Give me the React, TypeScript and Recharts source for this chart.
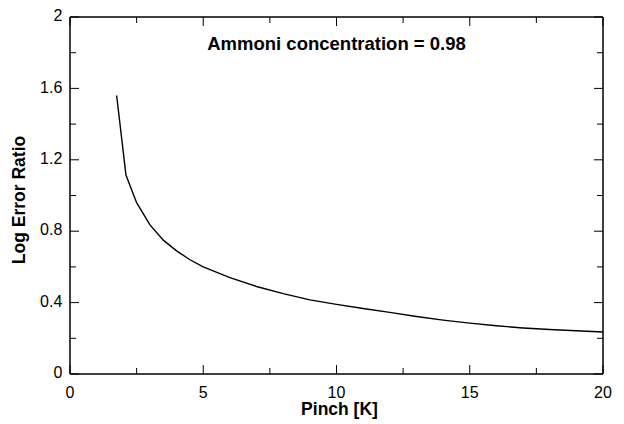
import React from 'react';
import { LineChart, Line, XAxis, YAxis, Label } from 'recharts';

const pinch = [1.75, 2.1, 2.5, 3, 3.5, 4, 4.5, 5, 6, 7, 8, 9, 10, 11, 12, 13, 14, 15, 16, 17, 18, 19, 20];
const logErrorRatio = [1.56, 1.115, 0.96, 0.835, 0.75, 0.69, 0.64, 0.6, 0.54, 0.49, 0.45, 0.415, 0.39, 0.367, 0.345, 0.322, 0.302, 0.285, 0.27, 0.258, 0.249, 0.242, 0.235];
const xMajorTicks = [0, 5, 10, 15, 20];
const xMinorTicks = [2.5, 7.5, 12.5, 17.5];
const yMajorTicks = [0, 0.4, 0.8, 1.2, 1.6, 2];
const yMinorTicks = [0.2, 0.6, 1.0, 1.4, 1.8];
const titleText = 'Ammoni concentration = 0.98';
const xLabel = 'Pinch [K]';
const yLabel = 'Log Error Ratio';

const data = pinch.map((x, i) => ({ x, y: logErrorRatio[i] }));

const FONT = '"Liberation Sans", Arial, sans-serif';
const axisLine = { stroke: '#000', strokeWidth: 1.5 };
const Z = 0.001;
const MAJOR = 9;
const MINOR = 6;

// Custom tick: draws the inward tick mark (and optionally the label).
// With tickMargin=0 and tickSize=-len, (x, y) is the inner end of the tick mark.
function makeTick(orientation: string, len: number, showLabel: boolean) {
  return (props: any) => {
    const { x, y, payload } = props;
    const v = payload && payload.value;
    const label = String(v);
    let line: any;
    let text: any = null;
    if (orientation === 'bottom') {
      line = <line x1={x} x2={x} y1={y} y2={y + len} stroke="#000" strokeWidth={1} />;
      if (showLabel)
        text = <text x={x} y={y + len + 23.6} textAnchor="middle" fontSize={16} fill="#000" fontFamily={FONT}>{label}</text>;
    } else if (orientation === 'top') {
      line = <line x1={x} x2={x} y1={y} y2={y - len} stroke="#000" strokeWidth={1} />;
    } else if (orientation === 'left') {
      line = <line x1={x} x2={x - len} y1={y} y2={y} stroke="#000" strokeWidth={1} />;
      if (showLabel)
        text = <text x={x - len - 7.7} y={y + 4.2} textAnchor="end" fontSize={16} fill="#000" fontFamily={FONT}>{label}</text>;
    } else {
      line = <line x1={x} x2={x + len} y1={y} y2={y} stroke="#000" strokeWidth={1} />;
    }
    return <g>{line}{text}</g>;
  };
}

export default function App() {
  return (
    <div style={{ position: 'absolute', left: 0, top: 0, background: '#fff', fontFamily: FONT }}>
      <LineChart width={624} height={424} data={data} margin={{ top: 17, right: 21, bottom: 50, left: 70 }}>
        {/* bottom */}
        <XAxis xAxisId="xb" dataKey="x" type="number" domain={[0, 20]} allowDataOverflow ticks={xMajorTicks} interval={0}
          orientation="bottom" height={Z} tickSize={-MAJOR} tickMargin={0} axisLine={axisLine} tickLine={false}
          tick={makeTick('bottom', MAJOR, true)}>
          <Label value={xLabel} position="bottom" offset={29} dx={3}
            style={{ fontSize: 17.5, fontWeight: 'bold', fill: '#000', fontFamily: FONT }} />
        </XAxis>
        <XAxis xAxisId="xbm" dataKey="x" type="number" domain={[0, 20]} allowDataOverflow ticks={xMinorTicks} interval={0}
          orientation="bottom" height={Z} tickSize={-MINOR} tickMargin={0} axisLine={false} tickLine={false}
          tick={makeTick('bottom', MINOR, false)} />
        {/* top */}
        <XAxis xAxisId="xt" dataKey="x" type="number" domain={[0, 20]} allowDataOverflow ticks={xMajorTicks} interval={0}
          orientation="top" height={Z} tickSize={-MAJOR} tickMargin={0} axisLine={axisLine} tickLine={false}
          tick={makeTick('top', MAJOR, false)}>
          <Label value={titleText} position="bottom" offset={20}
            style={{ fontSize: 18.5, fontWeight: 'bold', fill: '#000', fontFamily: FONT }} />
        </XAxis>
        <XAxis xAxisId="xtm" dataKey="x" type="number" domain={[0, 20]} allowDataOverflow ticks={xMinorTicks} interval={0}
          orientation="top" height={Z} tickSize={-MINOR} tickMargin={0} axisLine={false} tickLine={false}
          tick={makeTick('top', MINOR, false)} />
        {/* left */}
        <YAxis yAxisId="yl" type="number" domain={[0, 2]} allowDataOverflow ticks={yMajorTicks} interval={0}
          orientation="left" width={Z} tickSize={-MAJOR} tickMargin={0} axisLine={axisLine} tickLine={false}
          tick={makeTick('left', MAJOR, true)}>
          <Label value={yLabel} position="left" offset={51} angle={-90} dy={4.5}
            style={{ fontSize: 17.5, fontWeight: 'bold', fill: '#000', fontFamily: FONT, textAnchor: 'middle' }} />
        </YAxis>
        <YAxis yAxisId="ylm" type="number" domain={[0, 2]} allowDataOverflow ticks={yMinorTicks} interval={0}
          orientation="left" width={Z} tickSize={-MINOR} tickMargin={0} axisLine={false} tickLine={false}
          tick={makeTick('left', MINOR, false)} />
        {/* right */}
        <YAxis yAxisId="yr" type="number" domain={[0, 2]} allowDataOverflow ticks={yMajorTicks} interval={0}
          orientation="right" width={Z} tickSize={-MAJOR} tickMargin={0} axisLine={axisLine} tickLine={false}
          tick={makeTick('right', MAJOR, false)} />
        <YAxis yAxisId="yrm" type="number" domain={[0, 2]} allowDataOverflow ticks={yMinorTicks} interval={0}
          orientation="right" width={Z} tickSize={-MINOR} tickMargin={0} axisLine={false} tickLine={false}
          tick={makeTick('right', MINOR, false)} />
        <Line xAxisId="xb" yAxisId="yl" dataKey="y" type="linear" stroke="#000" strokeWidth={1.4}
          dot={false} isAnimationActive={false} />
      </LineChart>
    </div>
  );
}
